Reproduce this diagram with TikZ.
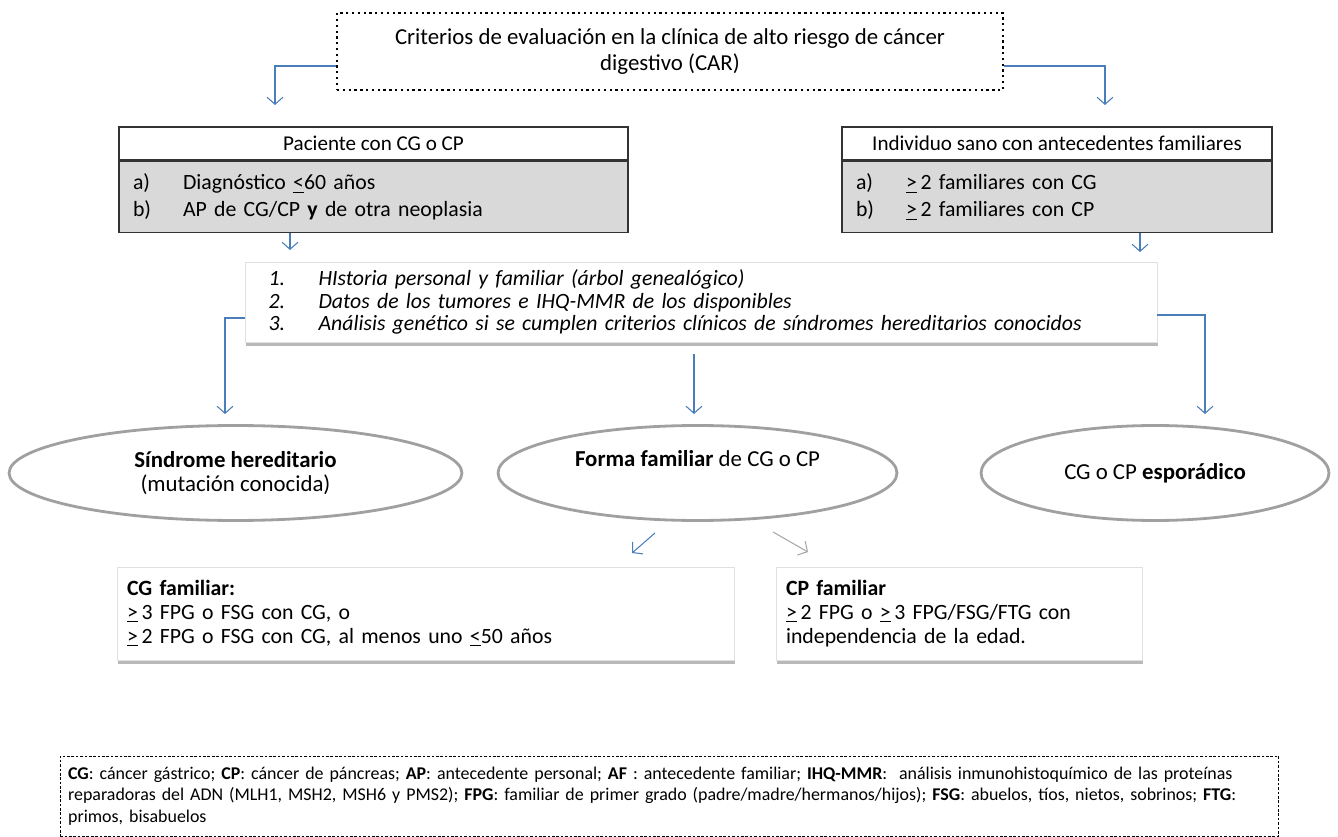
\documentclass[tikz,border=0pt]{standalone}
\usepackage{fontspec}
\setmainfont{Carlito}
\usetikzlibrary{arrows.meta,shapes.geometric,shadows}
\definecolor{arrowblue}{RGB}{74,126,187}
\definecolor{boxgray}{RGB}{217,217,217}
\definecolor{ringgray}{RGB}{160,160,160}
\newcommand{\px}{0.02cm}
\newcommand{\mayig}{\underline{>}}
\newcommand{\menig}{\underline{<}}
\newcommand{\itm}[2]{\makebox[1cm][l]{#1}#2}
\tikzset{
  arrow/.style={draw=arrowblue, line width=0.6pt, -{Straight Barb[length=4pt,width=9pt]}},
  grayarrow/.style={arrow, draw=black!35},
  topbox/.style={draw, dotted, line width=1.3pt, align=center, font=\fontsize{13}{15}\selectfont},
  headbox/.style={draw=black!80, line width=0.8pt, fill=white, font=\fontsize{12}{14}\selectfont},
  listbox/.style={draw=black!80, line width=0.8pt, fill=boxgray, anchor=north, align=left, inner xsep=0.28cm,
    font=\fontsize{12.4}{15.5}\selectfont},
  shadowbox/.style={fill=white, draw=black!12, align=left,
    drop shadow={shadow xshift=0.6pt, shadow yshift=-2pt, fill=black!55}},
  oval/.style={ellipse, draw=ringgray, line width=1.6pt, fill=white, align=center, font=\fontsize{13}{14}\selectfont},
}
\begin{document}
\begin{tikzpicture}[x=\px, y=-\px]
\useasboundingbox (0,0) rectangle (1338,837);

% criterios de evaluacion
\node[topbox, minimum width=13.32cm, minimum height=1.54cm] (criterios) at (670,51.5)
  {Criterios de evaluación en la clínica de alto riesgo de cáncer\\digestivo (CAR)};

\node[headbox, minimum width=10.18cm, minimum height=0.66cm] (paciente) at (373.5,143.5) {Paciente con CG o CP};
\node[listbox, minimum width=10.18cm, minimum height=1.42cm, text width=9.62cm] (pacientecrit) at (paciente.south)
  {\itm{a)}{Diagnóstico \menig60 años}\\\itm{b)}{AP de CG/CP \textbf{y} de otra neoplasia}};

\node[headbox, minimum width=8.6cm, minimum height=0.66cm] (individuo) at (1057,143.5) {Individuo sano con antecedentes familiares};
\node[listbox, minimum width=8.6cm, minimum height=1.42cm, text width=8.04cm] (individuocrit) at (individuo.south)
  {\itm{a)}{\mayig\,2 familiares con CG}\\\itm{b)}{\mayig\,2 familiares con CP}};

\coordinate (tpl) at (275,105);
\coordinate (tpr) at (1105,105);
\draw[arrow] ([yshift=-0.29cm]criterios.west) -| (tpl);
\draw[arrow] ([yshift=-0.29cm]criterios.east) -| (tpr);

\coordinate (pl) at (290,250);
\coordinate (pr) at (1140,252);
\draw[arrow] (pacientecrit.south -| pl) -- (pl);
\draw[arrow] (individuocrit.south -| pr) -- (pr);

% estudio
\node[shadowbox, minimum width=18.24cm, minimum height=1.6cm, text width=17.3cm, inner xsep=0.47cm,
  font=\fontsize{12.4}{13}\selectfont\itshape] (historia) at (701,302)
  {\itm{1.}{HIstoria personal y familiar (árbol genealógico)}\\
   \itm{2.}{Datos de los tumores e IHQ-MMR de los disponibles}\\
   \itm{3.}{Análisis genético si se cumplen criterios clínicos de síndromes hereditarios conocidos}};

\coordinate (hl) at (225,414);
\coordinate (hm) at (694,414);
\coordinate (hr) at (1205,414);
\draw[arrow] ([yshift=-0.32cm]historia.west) -| (hl);
\draw[arrow] (historia.south -| hm) ++(0,12) -- (hm);
\draw[arrow] ([yshift=-0.26cm]historia.east) -| (hr);

% resultados
\node[oval, minimum width=9.06cm, minimum height=1.9cm] (sindrome) at (235.5,473)
  {\textbf{Síndrome hereditario}\\(mutación conocida)};
\node[oval, minimum width=7.98cm, minimum height=1.9cm] (familiar) at (697.5,473)
  {\textbf{Forma familiar} de CG o CP\\[2pt]\mbox{}};
\node[oval, minimum width=6.96cm, minimum height=1.9cm] (esporadico) at (1155,473)
  {CG o CP \textbf{esporádico}};

% formas familiares
\node[shadowbox, minimum width=12.34cm, minimum height=1.86cm, text width=11.94cm, inner xsep=0.2cm,
  font=\fontsize{12.4}{13.5}\selectfont] (cgfam) at (425.5,613.5)
  {\textbf{CG familiar:}\\
   \mayig\,3 FPG o FSG con CG, o\\
   \mayig\,2 FPG o FSG con CG, al menos uno \menig50 años};
\node[shadowbox, minimum width=7.32cm, minimum height=1.86cm, text width=6.92cm, inner xsep=0.2cm,
  font=\fontsize{12.4}{13.5}\selectfont] (cpfam) at (959,613.5)
  {\textbf{CP familiar}\\
   \mayig\,2 FPG o \mayig\,3 FPG/FSG/FTG con\\
   independencia de la edad.};

\coordinate (fa1) at (655,533);
\coordinate (fa2) at (632,553);
\coordinate (fb1) at (773,532);
\coordinate (fb2) at (808,552);
\draw[arrow] (fa1) -- (fa2);
\draw[grayarrow] (fb1) -- (fb2);

% abreviaturas
\node[draw, dashed, dash pattern=on 1.5pt off 1pt, line width=0.5pt, minimum width=24.38cm, minimum height=1.6cm,
  text width=24.06cm, inner xsep=0.16cm, align=left, font=\fontsize{10.2}{12.2}\selectfont] (leyenda) at (669.5,796)
  {\textbf{CG}: cáncer gástrico; \textbf{CP}: cáncer de páncreas; \textbf{AP}: antecedente personal; \textbf{AF} : antecedente familiar; \textbf{IHQ-MMR}:\ \ análisis inmunohistoquímico de las proteínas\\
   reparadoras del ADN (MLH1, MSH2, MSH6 y PMS2); \textbf{FPG}: familiar de primer grado (padre/madre/hermanos/hijos); \textbf{FSG}: abuelos, tíos, nietos, sobrinos; \textbf{FTG}:\\
   primos, bisabuelos};
\end{tikzpicture}
\end{document}
